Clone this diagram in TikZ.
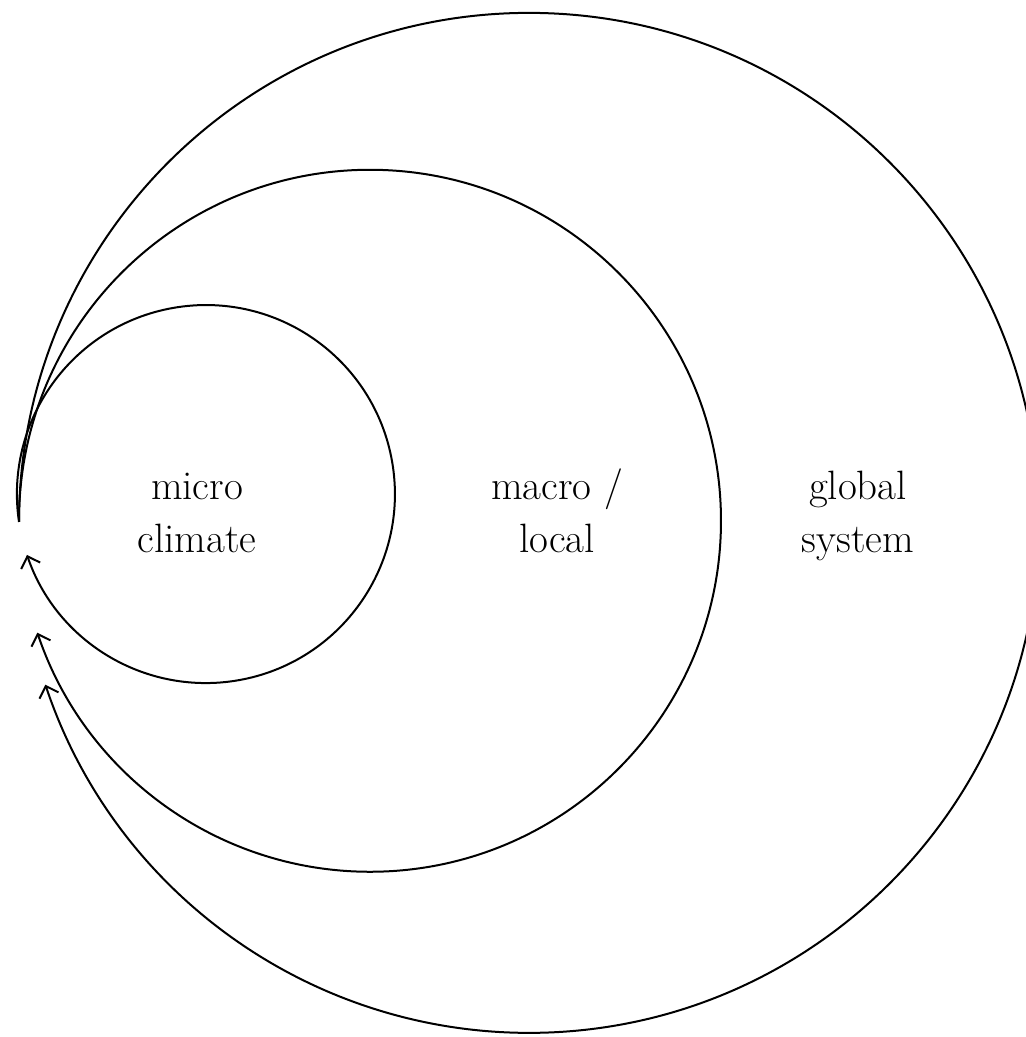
\documentclass[tikz,border=0pt]{standalone}
\usetikzlibrary{arrows.meta}
\begin{document}
\begin{tikzpicture}[x=0.5pt,y=0.5pt,
  loop/.style={line width=1pt,-{Straight Barb[length=5pt,width=10pt,line width=1pt]}},
  label/.style={align=center,font=\fontsize{20.5}{26.5}\selectfont,inner sep=0pt}]
\useasboundingbox (0,0) rectangle (1025,1037);

% common starting point of the three feedback loops
\coordinate (start) at (19,515);

% micro climate loop: centre (207,543), radius 189
\draw[loop] (start) arc[start angle=188.5,end angle=-161.2,radius=189] coordinate (microend);
% macro / local loop: centre (369,516), radius 351
\draw[loop] (start) arc[start angle=180.2,end angle=-161.4,radius=351] coordinate (macroend);
% global system loop: centre (528,514), radius 510
\draw[loop] (start) arc[start angle=179.9,end angle=-161.5,radius=510] coordinate (globalend);

\node[label] (micro)  at (197,524) {micro\\climate};
\node[label] (macro)  at (557,526) {macro /\\local};
\node[label] (global) at (858,521) {global\\system};
\end{tikzpicture}
\end{document}
